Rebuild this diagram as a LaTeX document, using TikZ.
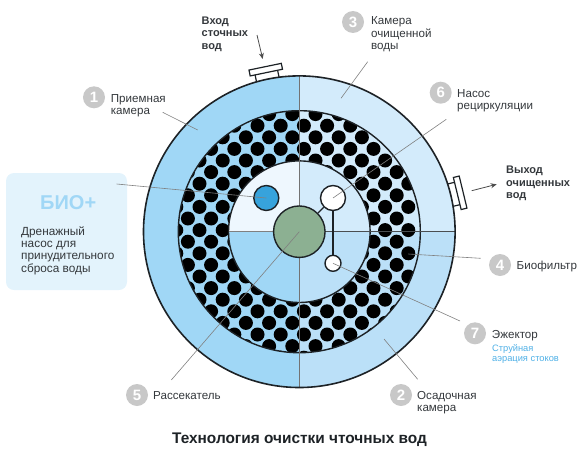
\documentclass[tikz,border=0pt]{standalone}
\usepackage{fontspec}
\usepackage{xcolor}
\setmainfont{Liberation Sans}
\usetikzlibrary{arrows.meta}
\definecolor{ringleft}{HTML}{A0D7F6}
\definecolor{ringtop}{HTML}{D3EBFB}
\definecolor{ringlow}{HTML}{BBE0F8}
\definecolor{corepale}{HTML}{EEF7FE}
\definecolor{boxfill}{HTML}{E3F3FC}
\definecolor{pumpblue}{HTML}{37A3DC}
\definecolor{scattergreen}{HTML}{8CB092}
\definecolor{inkdark}{HTML}{1D2226}
\definecolor{leadgray}{HTML}{808080}
\definecolor{badgegray}{HTML}{C8C8C8}
\definecolor{captionblue}{HTML}{4FB0E6}
\tikzset{
  txt/.style={anchor=west,inner sep=0pt,align=left,font=\fontsize{11.6}{12.5}\selectfont,text=inkdark!90},
  bold/.style={txt,font=\fontsize{11}{12.5}\selectfont\bfseries},
  badge/.style={circle,fill=badgegray,inner sep=0pt,minimum size=22pt,text=white,font=\fontsize{15}{15}\selectfont\bfseries},
  unit/.style={circle,draw=inkdark,line width=1.4pt,inner sep=0pt},
  lead/.style={leadgray,line width=0.6pt},
  flow/.style={draw=black!70,line width=0.8pt,-{Stealth[length=6pt,width=5pt]}}
}
\begin{document}
\begin{tikzpicture}[x=1pt,y=-1pt]
\useasboundingbox(0,0)rectangle(585,452);
\def\cx{299.3}
\def\cy{231.7}
% pipes
\foreach \ang in {101.7,13.6}{
\begin{scope}[shift={(\cx,\cy)},rotate=\ang]
\draw[inkdark,line width=1.2pt,fill=white](150,-11.5)rectangle(163,11.5);
\draw[inkdark,line width=1.2pt,fill=white](162.5,-16.5)rectangle(168.5,16.5);
\end{scope}
}
% outer ring
\begin{scope}
\clip(\cx,\cy)circle[radius=155.8];
\fill[ringleft](\cx-160,\cy-160)rectangle(\cx,\cy+160);
\fill[ringtop](\cx,\cy-160)rectangle(\cx+160,\cy);
\fill[ringlow](\cx,\cy)rectangle(\cx+160,\cy+160);
\end{scope}
% biofilter
\begin{scope}
\clip(\cx,\cy)circle[radius=121];
\foreach \i in {-11,...,11}{
\foreach \j in {-12,...,12}{
\pgfmathsetmacro{\dotx}{280.7+\i*11.6}
\pgfmathsetmacro{\doty}{125.7+(\j*2+\i)*11.6}
\fill[black](\dotx,\doty)circle[radius=7];
}
}
\end{scope}
\draw[inkdark,line width=1.4pt](\cx,\cy)circle[radius=121];
% core
\begin{scope}
\clip(\cx,\cy)circle[radius=70.8];
\fill[corepale](\cx-75,\cy-75)rectangle(\cx,\cy);
\fill[ringtop](\cx,\cy-75)rectangle(\cx+75,\cy);
\fill[ringleft](\cx-75,\cy)rectangle(\cx,\cy+75);
\fill[ringlow](\cx,\cy)rectangle(\cx+75,\cy+75);
\end{scope}
\draw[inkdark,line width=1.4pt](\cx,\cy)circle[radius=70.8];
% dividers
\draw[leadgray!90!black,line width=1pt](\cx,\cy-155.8)--(\cx,\cy+155.8);
\draw[leadgray,line width=0.7pt](\cx-70.8,\cy)--(\cx,\cy);
\draw[inkdark!80,line width=0.9pt](\cx,\cy)--(\cx+155.8,\cy);
\draw[inkdark,line width=1.6pt](\cx,\cy)circle[radius=155.8];
% units
\node[unit,fill=pumpblue,minimum size=25pt](biopump)at(266.3,198){};
\node[unit,fill=white,minimum size=25pt](recpump)at(333,198){};
\node[unit,fill=white,minimum size=16pt](ejector)at(333,263.3){};
\node[unit,fill=scattergreen,minimum size=51.5pt](scatter)at(\cx,\cy){};
\draw[inkdark,line width=1.4pt](recpump)--(ejector);
\draw[inkdark,line width=1.4pt](recpump)--(scatter);
% box
\node[fill=boxfill,rounded corners=8pt,minimum width=121pt,minimum height=117pt,inner sep=0pt](biobox)at(66.5,231.5){};
\node[anchor=west,inner sep=0pt,text=ringleft,font=\fontsize{20}{20}\selectfont\bfseries](biotitle)at(40,202.5){БИО+};
\node[txt,font=\fontsize{11.8}{12.3}\selectfont](biotext)at(21,250.5){Дренажный\\насос для\\принудительного\\сброса воды};
% badges
\node[badge](n1)at(94,97.3){1};
\node[badge](n2)at(401,395){2};
\node[badge](n3)at(353,22){3};
\node[badge](n4)at(500,265){4};
\node[badge](n5)at(137,395){5};
\node[badge](n6)at(440.7,92.7){6};
\node[badge](n7)at(475,333.3){7};
% labels
\node[txt](l1)at(110.7,105.7){Приемная\\камера};
\node[txt](l2)at(417,402.5){Осадочная\\камера};
\node[txt](l3)at(371,34.5){Камера\\очищенной\\воды};
\node[txt](l4)at(516.5,266.5){Биофильтр};
\node[txt](l5)at(153,395.5){Рассекатель};
\node[txt](l6)at(457,100.5){Насос\\рециркуляции};
\node[txt](l7)at(491.7,335.5){Эжектор};
\node[txt,text=captionblue,font=\fontsize{9.3}{10.5}\selectfont](l7b)at(492,354){Струйная\\аэрация стоков};
\node[bold](inlabel)at(201.5,34){Вход\\сточных\\вод};
\node[bold](outlabel)at(506,183.5){Выход\\очищенных\\вод};
\node[inner sep=0pt,text=inkdark,font=\fontsize{15.4}{16}\selectfont\bfseries](title)at(299.5,440){Технология очистки чточных вод};
% leaders
\coordinate(a1)at(162.7,112.3);
\coordinate(b1)at(197.7,130);
\coordinate(a2)at(417.7,379.3);
\coordinate(b2)at(384,339);
\coordinate(a3)at(367.7,61.7);
\coordinate(b3)at(341,98.3);
\coordinate(a4)at(480.7,258.3);
\coordinate(b4)at(408.3,254);
\coordinate(a5)at(171.3,380);
\coordinate(a6)at(446.3,119.3);
\coordinate(a7)at(460,321);
\coordinate(a8)at(116.7,184);
\draw[lead](a1)--(b1);
\draw[lead](a2)--(b2);
\draw[lead](a3)--(b3);
\draw[lead](a4)--(b4);
\draw[lead](a5)--(scatter.center);
\draw[lead](a6)--(recpump.center);
\draw[lead](a7)--(ejector.center);
\draw[lead](a8)--(biopump.center);
% flow arrows
\coordinate(in1)at(257,35);
\coordinate(in2)at(262.7,59);
\coordinate(out1)at(471.7,190.7);
\coordinate(out2)at(496.7,184.3);
\draw[flow](in1)--(in2);
\draw[flow](out1)--(out2);
\end{tikzpicture}
\end{document}
